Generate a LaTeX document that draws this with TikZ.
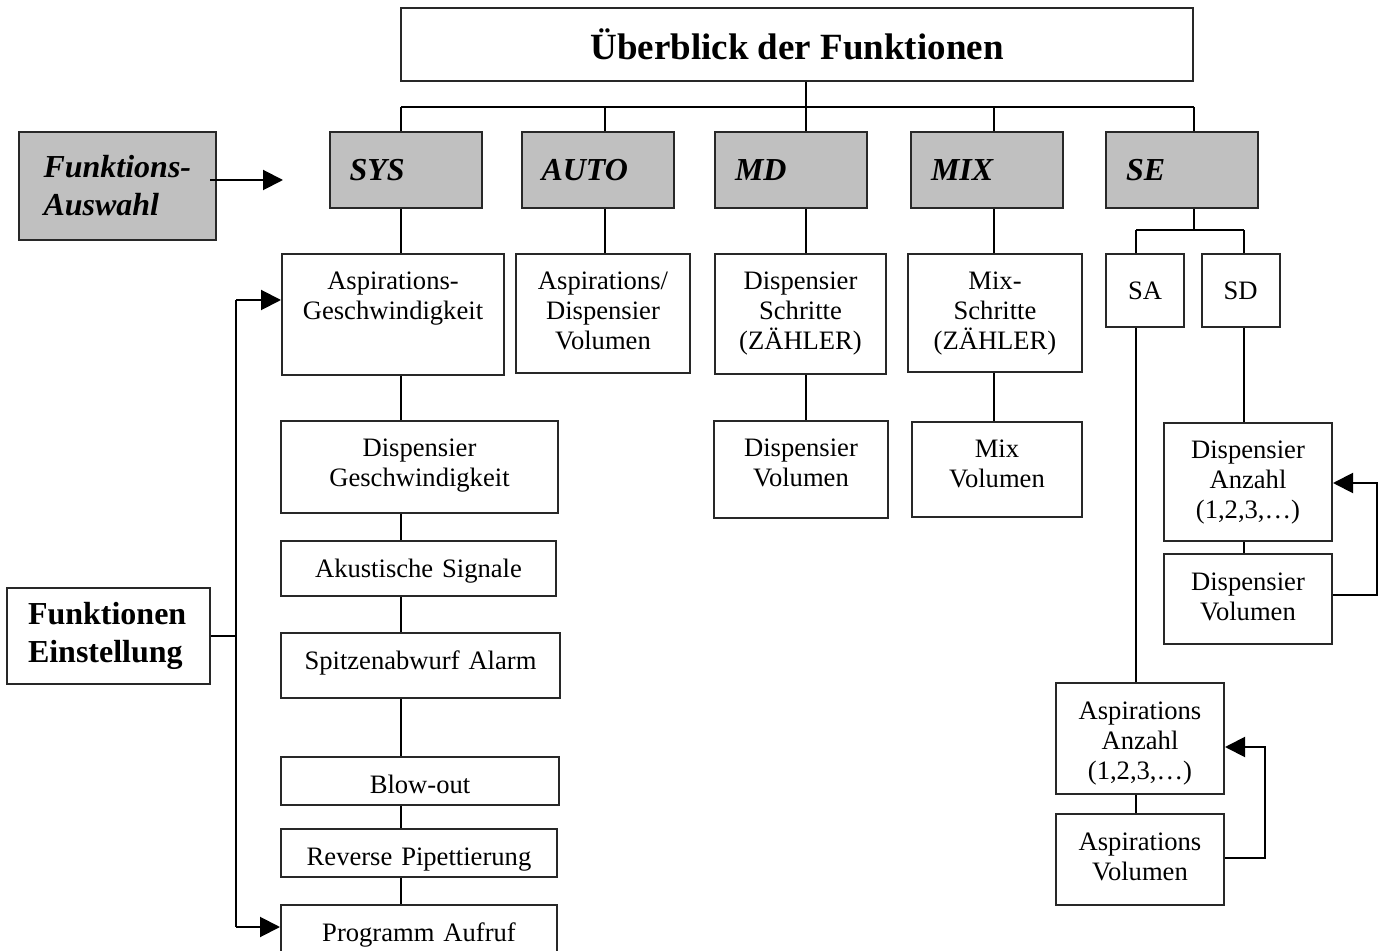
\documentclass[tikz,border=0pt]{standalone}
\usepackage{fontspec}
\setmainfont{Liberation Serif}
\usetikzlibrary{positioning, arrows.meta}
\definecolor{headgray}{RGB}{192,192,192}
\definecolor{boxline}{RGB}{40,40,40}

\begin{document}
\begin{tikzpicture}[x=0.5pt, y=-0.5pt, line width=1pt,
	topbox/.style={draw=boxline, minimum width=396pt, minimum height=36.5pt, inner sep=0pt, font=\bfseries\fontsize{18.5}{22}\selectfont},
	funcbox/.style={draw=boxline, fill=headgray, text width=56pt, inner xsep=10pt, inner ysep=0pt, minimum height=38pt, align=left, font=\bfseries\itshape\fontsize{16}{19}\selectfont},
	sidebox/.style={draw=boxline, inner ysep=0pt, align=left, font=\bfseries\fontsize{16}{19}\selectfont},
	setbox/.style={draw=boxline, fill=white, anchor=north, inner sep=0pt, align=center, text height=18pt, font=\fontsize{13.3}{15}\selectfont},
	smallbox/.style={draw=boxline, minimum width=39pt, minimum height=36.5pt, inner sep=0pt, font=\fontsize{13.3}{15}\selectfont},
	arr/.style={-{Triangle[length=10pt, width=10pt]}}]

	\useasboundingbox (0,0) rectangle (1386,951);
	\clip (0,0) rectangle (1386,951);

	% nodes - title and functions %
	\node[topbox] (overview) at (797,44.5) {Überblick der Funktionen};
	\foreach \name/\x/\lbl in {sys/405.5/SYS, auto/597.5/AUTO, md/791/MD, mix/987/MIX, se/1182/SE}
		\node[funcbox] (\name) at (\x,170) {\lbl};

	\node[sidebox, fill=headgray, text width=74pt, inner xsep=12.25pt, minimum height=54pt, font=\bfseries\itshape\fontsize{16}{19}\selectfont] (auswahl) at (117.5,186) {Funktions-\\Auswahl};
	\node[sidebox, text width=80.5pt, inner xsep=10.5pt, minimum height=48pt] (einst) at (108.5,636) {Funktionen\\Einstellung};

	% nodes - first row %
	\node[setbox, text width=111pt, text depth=42.5pt] (aspg) at (393,253) {Aspirations-\\Geschwindigkeit};
	\node[setbox, text width=87pt, text depth=41.5pt] (avol) at (603,253) {Aspirations/\\Dispensier\\Volumen};
	\node[setbox, text width=85.5pt, text depth=42pt] (mdstep) at (800.5,253) {Dispensier\\Schritte\\(ZÄHLER)};
	\node[setbox, text width=87pt, text depth=41pt] (mixstep) at (995,253) {Mix-\\Schritte\\(ZÄHLER)};
	\node[smallbox] (sa) at (1145,290.5) {SA};
	\node[smallbox] (sd) at (1240.5,290.5) {SD};

	% nodes - SYS column %
	\node[setbox, text width=138.5pt, text depth=28pt] (dgesch) at (419.5,420) {Dispensier\\Geschwindigkeit};
	\node[setbox, text width=137.5pt, text depth=9.5pt] (akust) at (418.5,540) {Akustische Signale};
	\node[setbox, text width=139.5pt, text depth=14.5pt] (spitze) at (420.5,632) {Spitzenabwurf Alarm};
	\node[setbox, text width=139pt, text depth=6pt] (blow) at (420,756) {Blow-out};
	\node[setbox, text width=138pt, text depth=6pt] (reverse) at (419,828) {Reverse Pipettierung};
	\node[setbox, text width=138pt, text depth=12pt] (prog) at (419,904) {Programm Aufruf};

	% nodes - MD, MIX, SE %
	\node[setbox, text width=87pt, text depth=30.5pt] (mdvol) at (801,420) {Dispensier\\Volumen};
	\node[setbox, text width=85pt, text depth=29.5pt] (mixvol) at (997,421) {Mix\\Volumen};
	\node[setbox, text width=84pt, text depth=41pt] (sdcount) at (1248,422) {Dispensier\\Anzahl\\(1,2,3,…)};
	\node[setbox, text width=84pt, text depth=27pt] (sdvol) at (1248,553) {Dispensier\\Volumen};
	\node[setbox, text width=84pt, text depth=37.5pt] (sacount) at (1140,682) {Aspirations\\Anzahl\\(1,2,3,…)};
	\node[setbox, text width=84pt, text depth=27.5pt] (savol) at (1140,813) {Aspirations\\Volumen};

	% edges - tree %
	\coordinate (c1) at (401,107);
	\coordinate (c2) at (605,107);
	\coordinate (c3) at (806,107);
	\coordinate (c4) at (994,107);
	\coordinate (c5) at (1194,107);
	\draw (overview.south -| c3) -- (c3);
	\draw (c1) -- (c5);
	\foreach \col/\h/\s in {c1/sys/aspg, c2/auto/avol, c3/md/mdstep, c4/mix/mixstep} {
		\draw (\col) -- (\col |- \h.north);
		\draw (\col |- \h.south) -- (\col |- \s.north);
	}
	\foreach \a/\b in {aspg/dgesch, dgesch/akust, akust/spitze, spitze/blow, blow/reverse, reverse/prog}
		\draw (c1 |- \a.south) -- (c1 |- \b.north);
	\draw (c3 |- mdstep.south) -- (c3 |- mdvol.north);
	\draw (c4 |- mixstep.south) -- (c4 |- mixvol.north);

	% edges - SE %
	\coordinate (sesplit) at (1194,230);
	\coordinate (saline) at (1136,230);
	\coordinate (sdline) at (1244,230);
	\draw (c5) -- (c5 |- se.north);
	\draw (c5 |- se.south) -- (sesplit);
	\draw (saline) -- (sdline);
	\draw (saline) -- (saline |- sa.north);
	\draw (sdline) -- (sdline |- sd.north);
	\draw (saline |- sa.south) -- (saline |- sacount.north);
	\draw (saline |- sacount.south) -- (saline |- savol.north);
	\draw (sdline |- sd.south) -- (sdline |- sdcount.north);
	\draw (sdline |- sdcount.south) -- (sdline |- sdvol.north);

	% edges - arrows %
	\coordinate (selend) at (283,180);
	\draw[arr] ([xshift=-3.5pt]auswahl.east |- selend) -- (selend);
	\coordinate (bustop) at (236,300);
	\coordinate (busbot) at (236,927);
	\draw (einst.east) -- (einst.east -| bustop);
	\draw (bustop) -- (busbot);
	\draw[arr] (bustop) -- (bustop -| aspg.west);
	\draw[arr] (busbot) -- (busbot -| prog.west);

	\coordinate (sdloopa) at (1377,595);
	\coordinate (sdloopb) at (1377,483);
	\draw[arr] (sdvol.east |- sdloopa) -- (sdloopa) -- (sdloopb) -- (sdloopb -| sdcount.east);
	\coordinate (saloopa) at (1265,858);
	\coordinate (saloopb) at (1265,747);
	\draw[arr] (savol.east |- saloopa) -- (saloopa) -- (saloopb) -- (saloopb -| sacount.east);

\end{tikzpicture}
\end{document}
